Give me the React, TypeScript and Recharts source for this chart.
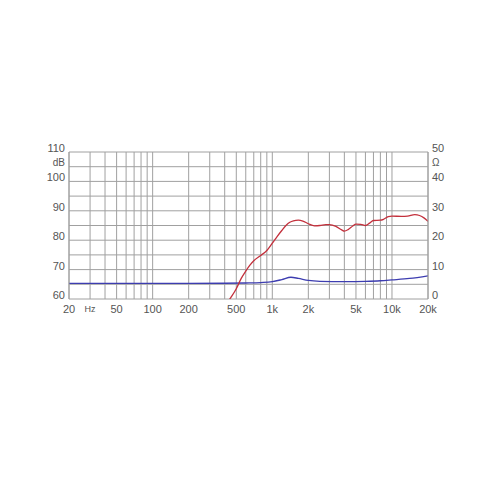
import React from 'react';
import { LineChart, Line, XAxis, YAxis, CartesianGrid } from 'recharts';

const freqTicks = [20, 30, 40, 50, 60, 70, 80, 90, 100, 200, 300, 400, 500, 600, 700, 800, 900, 1000, 2000, 3000, 4000, 5000, 6000, 7000, 8000, 9000, 10000, 20000];
const freqLabels: Record<number, string> = { 20: '20', 30: 'Hz', 50: '50', 100: '100', 200: '200', 500: '500', 1000: '1k', 2000: '2k', 5000: '5k', 10000: '10k', 20000: '20k' };

const dbTicks = [60, 65, 70, 75, 80, 85, 90, 95, 100, 105, 110];
const dbLabels: Record<number, string> = { 60: '60', 70: '70', 80: '80', 90: '90', 100: '100', 105: 'dB', 110: '110' };
const ohmTicks = [0, 5, 10, 15, 20, 25, 30, 35, 40, 45, 50];
const ohmLabels: Record<number, string> = { 0: '0', 10: '10', 20: '20', 30: '30', 40: '40', 45: 'Ω', 50: '50' };

const minorDbTicks = Array.from({ length: 51 }, (_, i) => 60 + i);
const minorOhmTicks = Array.from({ length: 51 }, (_, i) => i);

const splFreq = [400, 450, 500, 550, 600, 650, 700, 800, 900, 1000, 1100, 1200, 1300, 1400, 1500, 1650, 1800, 2000, 2250, 2500, 2800, 3000, 3400, 3800, 4000, 4300, 4700, 5000, 5500, 6000, 6500, 7000, 8000, 8500, 9300, 10000, 12000, 13500, 15500, 17000, 18500, 20000];
const splDb = [57.5, 60.5, 63.5, 67, 69.5, 71.5, 73, 74.8, 76.5, 79, 81.3, 83.3, 85, 86.1, 86.6, 86.8, 86.5, 85.6, 84.9, 85.0, 85.3, 85.3, 84.7, 83.5, 83.1, 83.6, 84.8, 85.5, 85.4, 85.0, 85.8, 86.7, 86.8, 87.1, 88.0, 88.2, 88.1, 88.2, 88.7, 88.4, 87.6, 86.4];

const impFreq = [20, 200, 400, 600, 800, 1000, 1200, 1430, 1650, 2000, 2500, 4000, 6000, 8000, 10000, 14000, 20000];
const impOhm = [5.3, 5.3, 5.35, 5.45, 5.6, 5.9, 6.6, 7.4, 7.0, 6.3, 6.0, 5.9, 6.0, 6.2, 6.5, 7.0, 7.9];

const splData = splFreq.map((f, i) => ({ f, spl: splDb[i] }));
const impData = impFreq.map((f, i) => ({ f, imp: impOhm[i] }));

const FONT = '"Liberation Sans", Arial, sans-serif';
const TXT = '#555';

const XTick = (props: any) => {
  const { x, y, payload } = props;
  const label = freqLabels[payload.value];
  if (!label) return null;
  const small = label === 'Hz';
  return (
    <text x={x} y={y + 9} textAnchor="middle" dominantBaseline="middle" fontSize={small ? 9 : 11} fill={TXT} fontFamily={FONT}>
      {label}
    </text>
  );
};

const LeftTick = (props: any) => {
  const { x, y, payload } = props;
  const label = dbLabels[payload.value];
  if (!label) return null;
  return (
    <text x={x} y={y - 3} textAnchor="end" dominantBaseline="middle" fontSize={label === 'dB' ? 10 : 11} fill={TXT} fontFamily={FONT}>
      {label}
    </text>
  );
};

const RightTick = (props: any) => {
  const { x, y, payload } = props;
  const label = ohmLabels[payload.value];
  if (!label) return null;
  return (
    <text x={x} y={y - 3} textAnchor="start" dominantBaseline="middle" fontSize={label === 'Ω' ? 10 : 11} fill={TXT} fontFamily={FONT}>
      {label}
    </text>
  );
};

export default function App() {
  return (
    <div style={{ position: 'absolute', left: 0, top: 0, width: 500, height: 500, background: '#fff' }}>
      <LineChart width={500} height={500} margin={{ top: 152, right: 32, bottom: 171, left: 29 }}>
        <CartesianGrid yAxisId="db" stroke="#a0a0a0" strokeWidth={1} />
        <XAxis
          dataKey="f"
          type="number"
          scale="log"
          domain={[20, 20000]}
          allowDataOverflow
          ticks={freqTicks}
          interval={0}
          height={30}
          tickSize={0}
          tickLine={false}
          axisLine={false}
          tick={<XTick />}
        />
        <YAxis
          yAxisId="db"
          orientation="left"
          type="number"
          domain={[60, 110]}
          allowDataOverflow
          ticks={dbTicks}
          interval={0}
          width={40}
          tickSize={0}
          tickMargin={4}
          tickLine={false}
          axisLine={{ stroke: '#a0a0a0' }}
          tick={<LeftTick />}
        />
        <YAxis
          yAxisId="dbMinor"
          orientation="left"
          mirror
          type="number"
          domain={[60, 110]}
          ticks={minorDbTicks}
          interval={0}
          tickSize={3}
          axisLine={false}
          tickLine={{ stroke: '#c4c4c4' }}
          tick={false}
        />
        <YAxis
          yAxisId="ohm"
          orientation="right"
          type="number"
          domain={[0, 50]}
          allowDataOverflow
          ticks={ohmTicks}
          interval={0}
          width={40}
          tickSize={0}
          tickMargin={4}
          tickLine={false}
          axisLine={{ stroke: '#a0a0a0' }}
          tick={<RightTick />}
        />
        <YAxis
          yAxisId="ohmMinor"
          orientation="right"
          mirror
          type="number"
          domain={[0, 50]}
          ticks={minorOhmTicks}
          interval={0}
          tickSize={3}
          axisLine={false}
          tickLine={{ stroke: '#c4c4c4' }}
          tick={false}
        />
        <Line
          data={impData}
          dataKey="imp"
          yAxisId="ohm"
          type="monotone"
          stroke="#3d3db0"
          strokeWidth={1.3}
          dot={false}
          activeDot={false}
          isAnimationActive={false}
        />
        <Line
          data={splData}
          dataKey="spl"
          yAxisId="db"
          type="monotone"
          stroke="#c3303c"
          strokeWidth={1.3}
          dot={false}
          activeDot={false}
          isAnimationActive={false}
        />
      </LineChart>
    </div>
  );
}
